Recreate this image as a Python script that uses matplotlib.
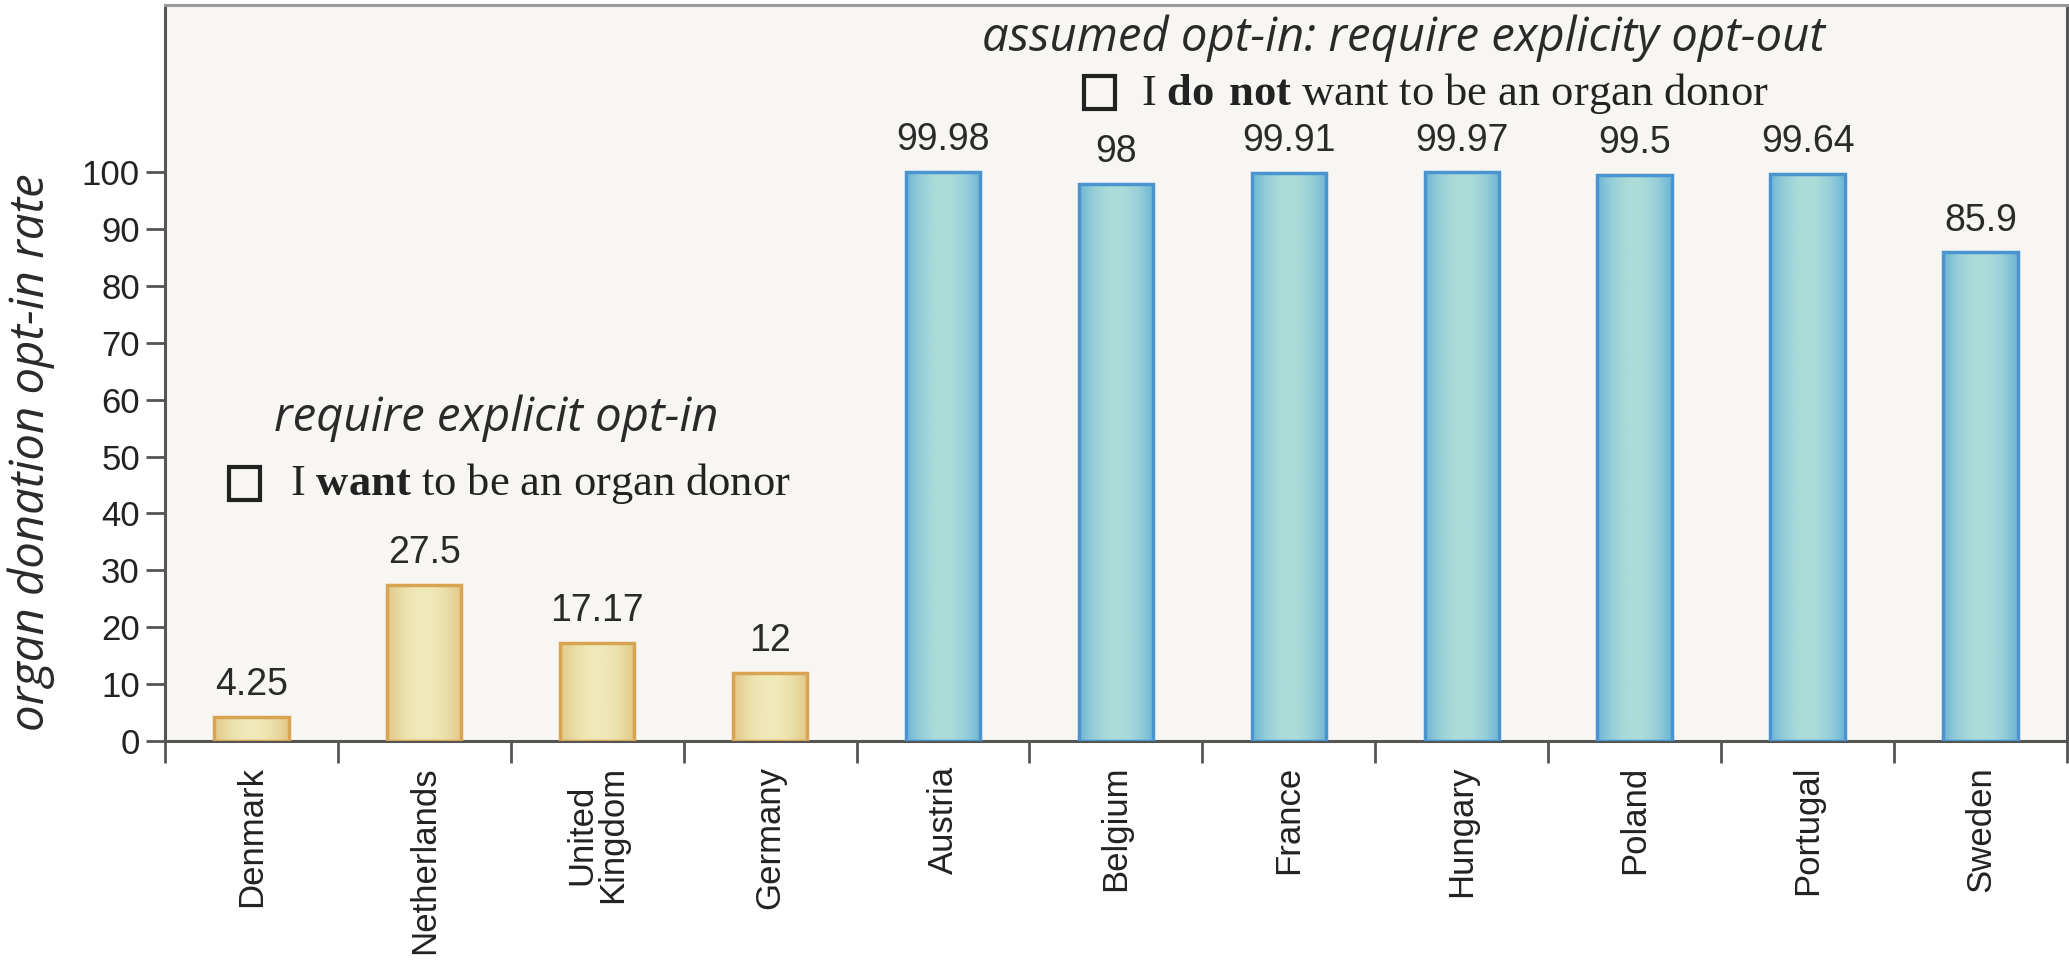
import matplotlib
matplotlib.use("Agg")
import matplotlib.pyplot as plt
from matplotlib.patches import Rectangle
from matplotlib.colors import LinearSegmentedColormap
import numpy as np

# data
countries = ["Denmark", "Netherlands", "United\nKingdom", "Germany", "Austria",
             "Belgium", "France", "Hungary", "Poland", "Portugal", "Sweden"]
rates = [4.25, 27.5, 17.17, 12, 99.98, 98, 99.91, 99.97, 99.5, 99.64, 85.9]
rate_labels = ["4.25", "27.5", "17.17", "12", "99.98", "98", "99.91",
               "99.97", "99.5", "99.64", "85.9"]
opt_out = [False, False, False, False, True, True, True, True, True, True, True]
yticks = [0, 10, 20, 30, 40, 50, 60, 70, 80, 90, 100]

plt.rcParams['mathtext.fontset'] = 'custom'
plt.rcParams['mathtext.rm'] = 'Liberation Serif'
plt.rcParams['mathtext.bf'] = 'Liberation Serif:bold'

fig = plt.figure(figsize=(20.69, 9.66), dpi=100)
ax = fig.add_axes([0.0797, 0.233, 0.9193, 0.7618])
ax.set_facecolor('#f8f6f2')

x = np.arange(len(countries)) + 0.5
face = ['#a9dcd8' if o else '#ece5b2' for o in opt_out]
edge = ['#4a95cf' if o else '#d9a452' for o in opt_out]
bars = ax.bar(x, rates, width=0.43, color=face, edgecolor='none', zorder=2)

# soft horizontal shading inside each bar
blue_cm = LinearSegmentedColormap.from_list('b', ['#6fb6d6', '#98d0d8', '#abdcd8', '#abdcd8', '#98d0d8', '#6fb6d6'])
yel_cm = LinearSegmentedColormap.from_list('y', ['#e2c888', '#eadfa8', '#efe9b9', '#efe9b9', '#eadfa8', '#e2c888'])
grad = np.linspace(0, 1, 64).reshape(1, -1)
for b, o in zip(bars, opt_out):
    x0, w, h = b.get_x(), b.get_width(), b.get_height()
    im = ax.imshow(grad, extent=[x0, x0 + w, 0, h], aspect='auto',
                   cmap=blue_cm if o else yel_cm, zorder=2.5, interpolation='bilinear')
    im.set_clip_path(b)
ax.bar(x, rates, width=0.43, fill=False, edgecolor=edge, linewidth=2.5, zorder=3)

for xi, v, lab in zip(x, rates, rate_labels):
    ax.annotate(lab, (xi, v), xytext=(0, 10), textcoords='offset points',
                ha='center', va='bottom', fontsize=27, color='#2a2a2a',
                family='Liberation Sans')

ax.set_xlim(0, len(countries))
ax.set_ylim(0, 129.4)
ax.set_yticks(yticks)
ax.set_yticklabels([str(t) for t in yticks], family='Liberation Sans',
                   fontsize=25, color='#222222')
ax.tick_params(axis='y', length=14, width=2, color='#555555', pad=4)

# boundary ticks (no labels) and country names between them
ax.set_xticks(np.arange(len(countries) + 1))
ax.set_xticklabels([])
ax.tick_params(axis='x', which='major', length=16, width=2, color='#555555')
ax.set_xticks(x, minor=True)
ax.set_xticklabels(countries, minor=True, rotation=90, family='Liberation Sans',
                   fontsize=25, color='#222222', linespacing=0.9)
ax.tick_params(axis='x', which='minor', length=0, pad=18)

for s in ax.spines.values():
    s.set_linewidth(2.2)
    s.set_color('#555555')
ax.spines['top'].set_color('#999999')

ax.set_ylabel('organ donation opt-in rate', family='Open Sans', style='italic',
              fontsize=34, color='#2a2a2a')
ax.yaxis.set_label_coords(-0.058, 0.393)

# group annotations
fig.text(496 / 2069, 1 - 418 / 966, 'require explicit opt-in', family='Open Sans',
         style='italic', fontsize=34, color='#2a2a2a', ha='center', va='center')
fig.text(1404 / 2069, 1 - 38 / 966, 'assumed opt-in: require explicity opt-out',
         family='Open Sans', style='italic', fontsize=34, color='#2a2a2a',
         ha='center', va='center')

fig.text(290 / 2069, 1 - 484 / 966, r'I $\mathbf{want}$ to be an organ donor',
         family='Liberation Serif', fontsize=32, color='#222222',
         ha='left', va='center')
fig.text(1141 / 2069, 1 - 94 / 966, r'I $\mathbf{do\ not}$ want to be an organ donor',
         family='Liberation Serif', fontsize=32, color='#222222',
         ha='left', va='center')

for bx, by in [(229, 467), (1084, 76)]:
    fig.add_artist(Rectangle((bx / 2069, 1 - (by + 33) / 966), 31 / 2069, 33 / 966,
                             transform=fig.transFigure, fill=False,
                             edgecolor='#222222', linewidth=3))

fig.savefig('out.png', dpi=100)
